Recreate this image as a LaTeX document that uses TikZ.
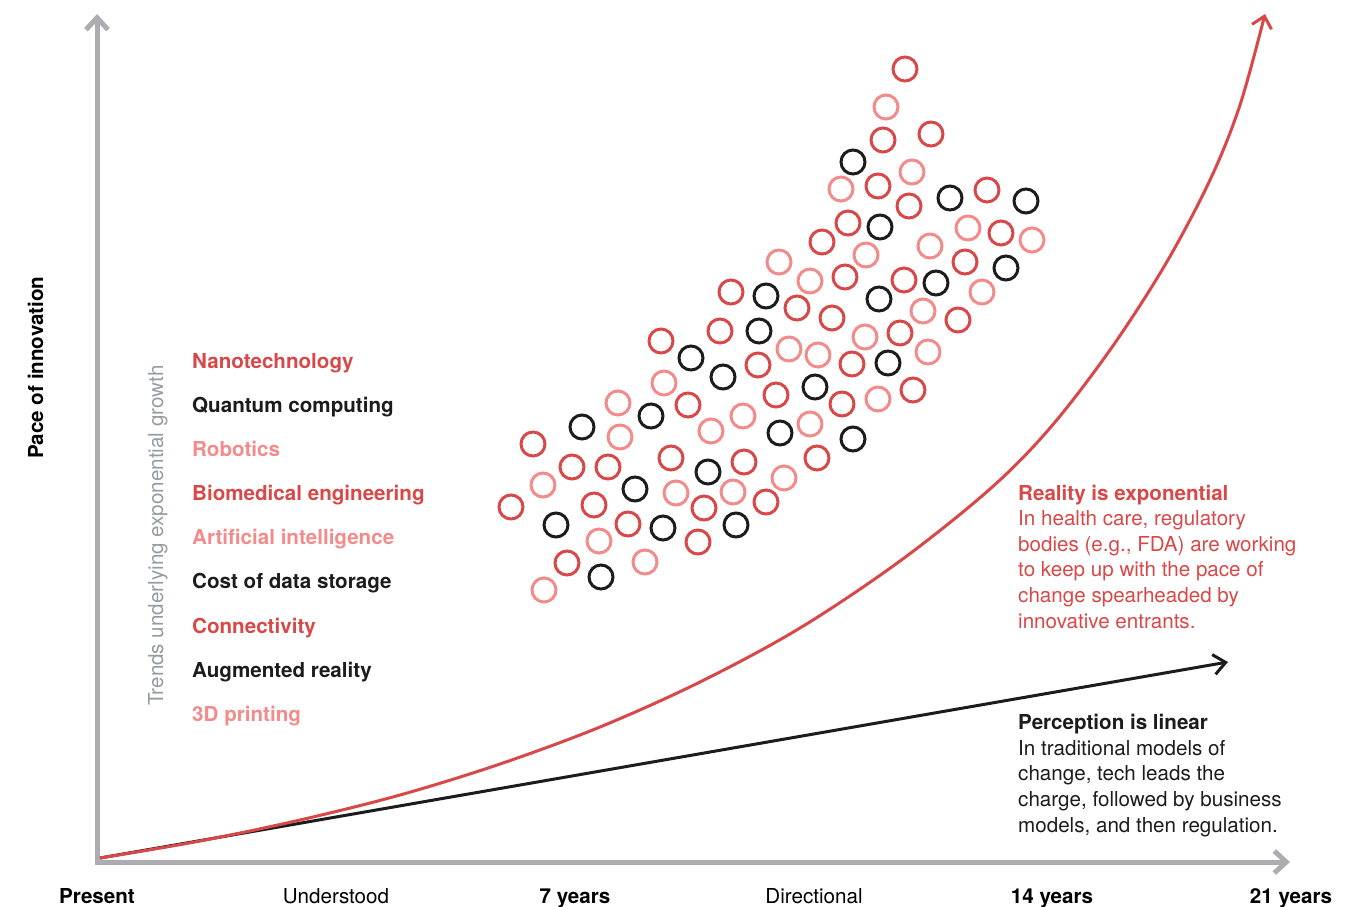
\documentclass[tikz,border=0pt]{standalone}
\usepackage{fontspec}
\setmainfont{TeX Gyre Heros}
\usetikzlibrary{arrows.meta}

\definecolor{hotred}{RGB}{217,72,72}
\definecolor{softred}{RGB}{243,139,139}
\definecolor{inkblack}{RGB}{28,28,28}
\definecolor{axisgray}{RGB}{172,172,177}
\definecolor{labelgray}{RGB}{150,155,162}

\begin{document}
\begin{tikzpicture}[x=1pt,y=-1pt,
  every node/.style={inner sep=0pt,font=\fontsize{20.6}{25.6}\selectfont},
  ring/.style={line width=3pt},
  trend/.style={anchor=base west,font=\fontsize{20.6}{24}\selectfont\bfseries},
  yearlabel/.style={anchor=base,font=\fontsize{20.6}{24}\selectfont},
  note/.style={anchor=base west,align=left}]
  \useasboundingbox (0,0) rectangle (1352,907);

  % axes
  \draw[axisgray,line width=5pt,line join=miter,
    {Straight Barb[length=12pt,width=22pt]}-{Straight Barb[length=12pt,width=22pt]}]
    (97,14) |- (1290,862);
  \node[rotate=90,anchor=base west,font=\fontsize{20.6}{24}\selectfont\bfseries] (pace) at (43,459) {Pace of innovation};

  % perception vs reality
  \coordinate (origin) at (100,858);
  \coordinate (lintip) at (1228,662);
  \draw[inkblack,line width=3pt,-{Straight Barb[length=12pt,width=20pt]}] (origin) -- (lintip);
  \draw[hotred,line width=3pt,-{Straight Barb[length=11pt,width=20pt]}]
    plot[smooth,tension=0.55] coordinates {(100,858) (200,841) (300,820) (400,795) (500,764)
      (600,727) (700,682) (800,628) (900,561) (990,489) (1050,428) (1110,350) (1165,265)
      (1210,180) (1240,105) (1265,14)};

  % trend rings
  \foreach \x/\y in {905/69,883/140,931/134,878/186,909/206,987/190,848/223,822/242,
      1001/233,965/262,845/277,904/280,731/292,797/308,958/320,832/318,720/331,900/333,
      661/341,758/365,852/364,776/395,913/390,688/405,842/404,533/444,671/458,572/467,
      608/467,744/462,817/458,511/507,594/505,704/508,766/502,628/524,698/542,567/563}
    \draw[ring,hotred] (\x,\y) circle[radius=12pt];
  \foreach \x/\y in {886/107,912/172,841/189,968/228,1032/240,930/246,866/255,779/262,
      810/281,982/292,923/311,865/337,789/349,818/355,928/352,664/383,618/403,743/416,
      878/399,620/437,711/431,810/424,543/485,676/493,733/492,784/478,599/541,645/562,544/590}
    \draw[ring,softred] (\x,\y) circle[radius=12pt];
  \foreach \x/\y in {853/162,950/198,1026/201,880/227,1006/268,936/283,766/296,879/299,
      759/331,691/358,888/363,723/377,815/387,651/416,582/427,780/433,853/439,708/472,
      635/489,556/525,663/528,736/525,601/577}
    \draw[ring,inkblack] (\x,\y) circle[radius=12pt];

  % trend list
  \node[rotate=90,anchor=base west,text=labelgray] (trends) at (163,706) {Trends underlying exponential growth};
  \node[trend,text=hotred] (nano) at (192,368) {Nanotechnology};
  \node[trend,text=inkblack] (quantum) at (192,412) {Quantum computing};
  \node[trend,text=softred] (robot) at (192,456) {Robotics};
  \node[trend,text=hotred] (biomed) at (192,500) {Biomedical engineering};
  \node[trend,text=softred] (ai) at (192,544) {Artificial intelligence};
  \node[trend,text=inkblack] (storage) at (192,588) {Cost of data storage};
  \node[trend,text=hotred] (connect) at (192,633) {Connectivity};
  \node[trend,text=inkblack] (ar) at (192,677) {Augmented reality};
  \node[trend,text=softred] (print) at (192,721) {3D printing};

  % notes (base is the last line)
  \node[note,text=hotred] (reality) at (1018,628)
    {\textbf{Reality is exponential}\\In health care, regulatory\\bodies (e.g., FDA) are working\\
     to keep up with the pace of\\change spearheaded by\\innovative entrants.};
  \node[note,text=inkblack] (perception) at (1018,832)
    {\textbf{Perception is linear}\\In traditional models of\\change, tech leads the\\
     charge, followed by business\\models, and then regulation.};

  % time scale
  \node[yearlabel,font=\fontsize{20.6}{24}\selectfont\bfseries] (present) at (97,903) {Present};
  \node[yearlabel] (understood) at (336,903) {Understood};
  \node[yearlabel,font=\fontsize{20.6}{24}\selectfont\bfseries] (seven) at (575,903) {7 years};
  \node[yearlabel] (directional) at (814,903) {Directional};
  \node[yearlabel,font=\fontsize{20.6}{24}\selectfont\bfseries] (fourteen) at (1052,903) {14 years};
  \node[yearlabel,font=\fontsize{20.6}{24}\selectfont\bfseries] (twentyone) at (1291,903) {21 years};
\end{tikzpicture}
\end{document}
